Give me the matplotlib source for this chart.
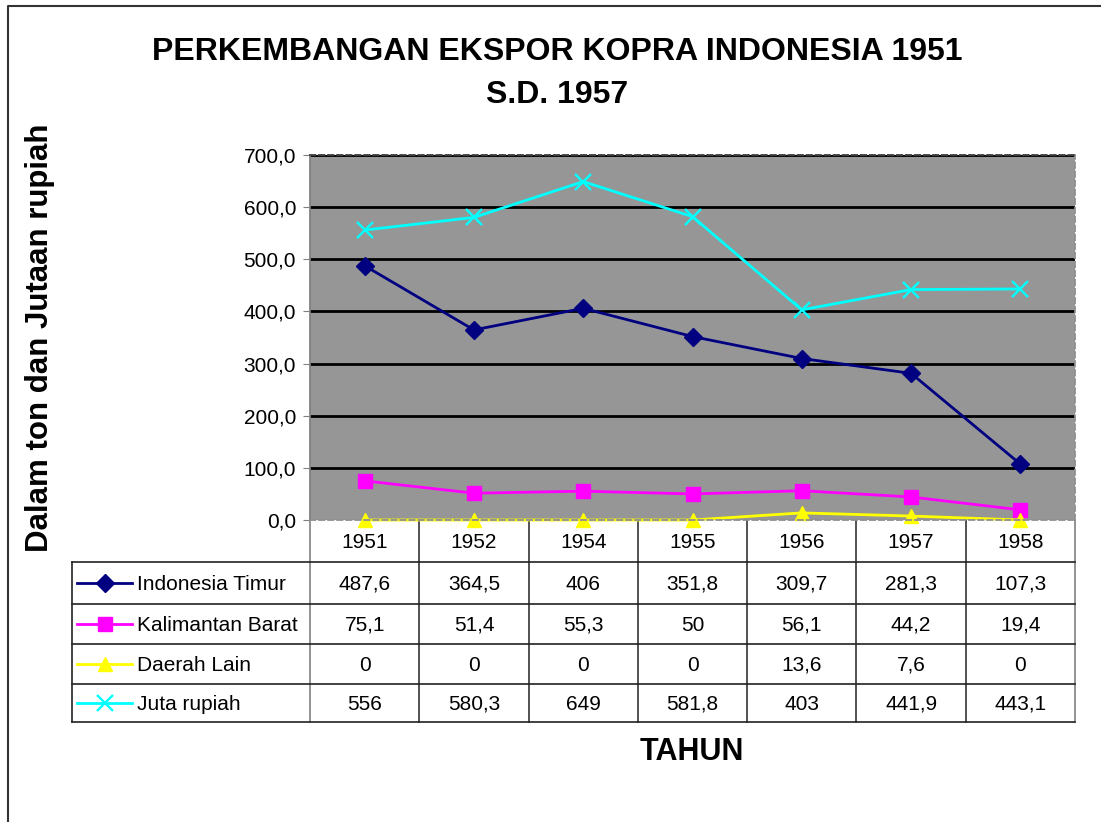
import matplotlib

matplotlib.use("Agg")

import matplotlib.pyplot as plt
import numpy as np

plt.rcParams["font.family"] = ["Liberation Sans", "DejaVu Sans"]

YEARS = ["1951", "1952", "1954", "1955", "1956", "1957", "1958"]
SERIES_NAMES = ["Indonesia Timur", "Kalimantan Barat", "Daerah Lain", "Juta rupiah"]
INDONESIA_TIMUR = [487.6, 364.5, 406, 351.8, 309.7, 281.3, 107.3]
KALIMANTAN_BARAT = [75.1, 51.4, 55.3, 50, 56.1, 44.2, 19.4]
DAERAH_LAIN = [0, 0, 0, 0, 13.6, 7.6, 0]
JUTA_RUPIAH = [556, 580.3, 649, 581.8, 403, 441.9, 443.1]
Y_TICKS = [0, 100, 200, 300, 400, 500, 600, 700]

STYLES = [
    dict(color="#000080", marker="D", ms=9),
    dict(color="#FF00FF", marker="s", ms=10),
    dict(color="#FFFF00", marker="^", ms=10),
    dict(color="#00FFFF", marker="x", ms=12, mew=1.7),
]

W, H = 1101, 822
PX_LEFT, PX_RIGHT, PX_TOP, PX_BOTTOM = 310, 1075, 155, 520
ROW_EDGES = [520, 562, 604, 644, 684, 722]
LEGEND_LEFT = 72
FS = 15


def fmt(v):
    if float(v).is_integer():
        return str(int(v))
    return f"{v:.1f}".replace(".", ",")


fig = plt.figure(figsize=(W / 100, H / 100), dpi=100)

# overlay in pixel coordinates for frame and data table
ov = fig.add_axes([0, 0, 1, 1])
ov.set_xlim(0, W)
ov.set_ylim(H, 0)
ov.axis("off")
ov.plot([8, 8, W + 5], [H + 5, 6, 6], color="#333333", lw=1.5)

ax = fig.add_axes([PX_LEFT / W, 1 - PX_BOTTOM / H, (PX_RIGHT - PX_LEFT) / W, (PX_BOTTOM - PX_TOP) / H])
ax.set_facecolor("#969696")
x = np.arange(len(YEARS))
ax.set_xlim(-0.5, len(YEARS) - 0.5)
ax.set_ylim(0, 700)
ax.set_yticks(Y_TICKS)
ax.set_yticklabels([f"{t:.1f}".replace(".", ",") for t in Y_TICKS], fontsize=FS)
ax.tick_params(axis="y", length=5, color="#808080", pad=5)
ax.set_xticks([])
for t in Y_TICKS[1:]:
    ax.axhline(t, color="black", lw=2, zorder=1)
for name, sp in ax.spines.items():
    sp.set_color("#909090")
    sp.set_linewidth(1.3)
    sp.set_zorder(4)
    if name != "left":
        sp.set_linestyle((0, (3, 2)))
ax.spines["top"].set_color("#404040")
ax.spines["left"].set_color("#808080")

all_series = [INDONESIA_TIMUR, KALIMANTAN_BARAT, DAERAH_LAIN, JUTA_RUPIAH]
for vals, st in zip(all_series, STYLES):
    ax.plot(x, vals, color=st["color"], lw=2, marker=st["marker"], ms=st["ms"],
            mew=st.get("mew", 1), mec=st["color"], clip_on=False, zorder=3)

# data table
col_w = (PX_RIGHT - PX_LEFT) / len(YEARS)
col_edges = [PX_LEFT + i * col_w for i in range(len(YEARS) + 1)]
for xe in col_edges:
    ov.plot([xe, xe], [ROW_EDGES[0], ROW_EDGES[-1]], color="#333333" if xe not in (PX_LEFT, PX_RIGHT) else "#808080", lw=1.2)
for ye in ROW_EDGES[1:]:
    ov.plot([LEGEND_LEFT, PX_RIGHT], [ye, ye], color="#222222", lw=1.2)
ov.plot([LEGEND_LEFT, LEGEND_LEFT], [ROW_EDGES[1], ROW_EDGES[-1]], color="#222222", lw=1.2)

for i, yr in enumerate(YEARS):
    cx = (col_edges[i] + col_edges[i + 1]) / 2
    ov.text(cx, (ROW_EDGES[0] + ROW_EDGES[1]) / 2 + 1, yr, ha="center", va="center", fontsize=FS)

for r, (name, vals, st) in enumerate(zip(SERIES_NAMES, all_series, STYLES)):
    cy = (ROW_EDGES[r + 1] + ROW_EDGES[r + 2]) / 2
    ov.plot([77, 132], [cy, cy], color=st["color"], lw=2)
    ov.plot([104.5], [cy], color=st["color"], marker=st["marker"], ms=st["ms"],
            mew=st.get("mew", 1), mec=st["color"])
    ov.text(137, cy + 1, name, ha="left", va="center", fontsize=FS)
    for i, v in enumerate(vals):
        cx = (col_edges[i] + col_edges[i + 1]) / 2
        ov.text(cx, cy + 1, fmt(v), ha="center", va="center", fontsize=FS)

fig.text(557 / W, 1 - 52 / H, "PERKEMBANGAN EKSPOR KOPRA INDONESIA 1951", ha="center", va="center",
         fontsize=23, fontweight="bold")
fig.text(557 / W, 1 - 95 / H, "S.D. 1957", ha="center", va="center", fontsize=23, fontweight="bold")
fig.text(40 / W, 1 - 338 / H, "Dalam ton dan Jutaan rupiah", ha="center", va="center", rotation=90,
         fontsize=22.5, fontweight="bold")
fig.text(692 / W, 1 - 752 / H, "TAHUN", ha="center", va="center", fontsize=22, fontweight="bold")

fig.savefig("out.png", dpi=100)
